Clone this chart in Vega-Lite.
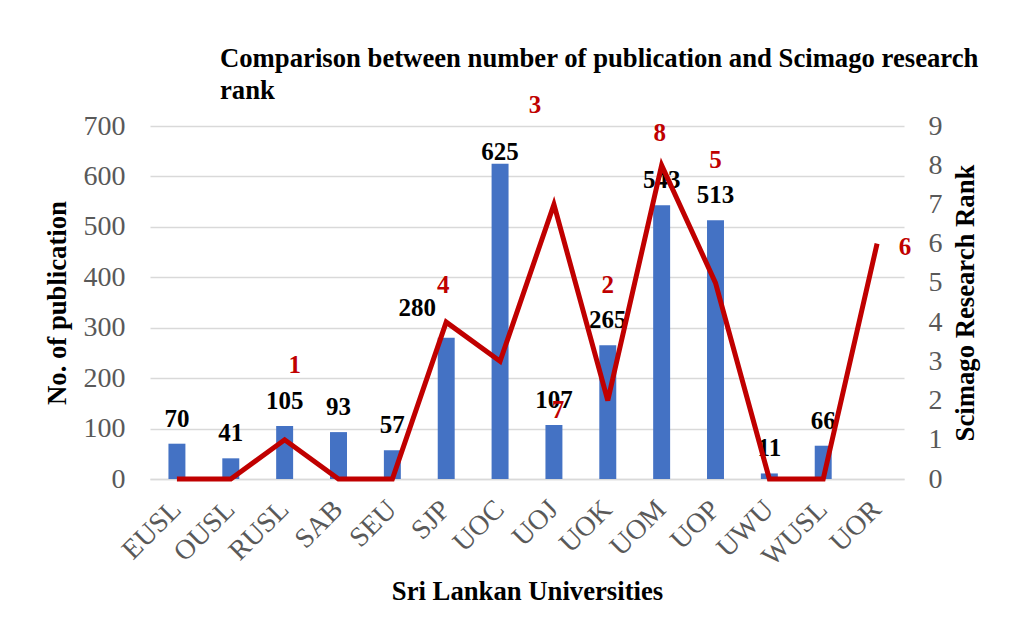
{
  "$schema": "https://vega.github.io/schema/vega-lite/v6.json",
  "width": 754,
  "height": 353,
  "autosize": {"type": "none"},
  "padding": {"left": 150, "top": 126, "right": 105, "bottom": 156},
  "background": "white",
  "title": {
    "text": ["Comparison between number of publication and Scimago research", "rank"],
    "anchor": "start",
    "frame": "group",
    "dx": 70,
    "dy": 37,
    "offset": 26,
    "fontSize": 26.7,
    "lineHeight": 32,
    "font": "Liberation Serif",
    "fontWeight": "bold",
    "color": "black"
  },
  "data": {
    "values": [
      {"uni": "EUSL", "pubs": 70, "rank": 0},
      {"uni": "OUSL", "pubs": 41, "rank": 0},
      {"uni": "RUSL", "pubs": 105, "rank": 1},
      {"uni": "SAB", "pubs": 93, "rank": 0},
      {"uni": "SEU", "pubs": 57, "rank": 0},
      {"uni": "SJP", "pubs": 280, "rank": 4},
      {"uni": "UOC", "pubs": 625, "rank": 3},
      {"uni": "UOJ", "pubs": 107, "rank": 7},
      {"uni": "UOK", "pubs": 265, "rank": 2},
      {"uni": "UOM", "pubs": 543, "rank": 8},
      {"uni": "UOP", "pubs": 513, "rank": 5},
      {"uni": "UWU", "pubs": 11, "rank": 0},
      {"uni": "WUSL", "pubs": 66, "rank": 0},
      {"uni": "UOR", "pubs": null, "rank": 6}
    ]
  },
  "encoding": {
    "x": {
      "field": "uni",
      "type": "nominal",
      "sort": null,
      "scale": {"paddingInner": 0, "paddingOuter": 0},
      "axis": {
        "title": "Sri Lankan Universities",
        "labelAngle": -45,
        "labelAlign": "right",
        "labelBaseline": "middle",
        "labelPadding": 26,
        "labelFontSize": 28,
        "labelColor": "#595959",
        "ticks": false,
        "domainColor": "#d9d9d9",
        "domainWidth": 1.5,
        "titleFontSize": 26.7,
        "titlePadding": 8
      }
    }
  },
  "layer": [
    {
      "encoding": {
        "y": {
          "field": "pubs",
          "type": "quantitative",
          "scale": {"domain": [0, 700]},
          "axis": {
            "orient": "left",
            "title": "No. of publication",
            "values": [0, 100, 200, 300, 400, 500, 600, 700],
            "labelFontSize": 28,
            "labelColor": "#595959",
            "labelPadding": 25,
            "ticks": false,
            "domain": false,
            "grid": true,
            "gridColor": "#d9d9d9",
            "gridWidth": 1.5,
            "titleFontSize": 26.7,
            "titlePadding": 12
          }
        }
      },
      "layer": [
        {
          "mark": {"type": "bar", "color": "#4472C4", "width": {"band": 0.315}},
          "transform": [{"filter": "datum.pubs != null"}]
        },
        {
          "mark": {"type": "text", "fontSize": 25, "fontWeight": "bold", "color": "black", "baseline": "middle", "dy": -25},
          "transform": [{"filter": "datum.pubs != null && datum.uni != 'UOC' && datum.uni != 'SJP'"}],
          "encoding": {"text": {"field": "pubs", "type": "quantitative"}}
        },
        {
          "mark": {"type": "text", "fontSize": 25, "fontWeight": "bold", "color": "black", "baseline": "middle", "dy": -12},
          "transform": [{"filter": "datum.uni == 'UOC'"}],
          "encoding": {"text": {"field": "pubs", "type": "quantitative"}}
        },
        {
          "mark": {"type": "text", "fontSize": 25, "fontWeight": "bold", "color": "black", "baseline": "middle", "dy": -30, "dx": -29},
          "transform": [{"filter": "datum.uni == 'SJP'"}],
          "encoding": {"text": {"field": "pubs", "type": "quantitative"}}
        }
      ]
    },
    {
      "encoding": {
        "y": {
          "field": "rank",
          "type": "quantitative",
          "scale": {"domain": [0, 9]},
          "axis": {
            "orient": "right",
            "title": "Scimago Research Rank",
            "titleAngle": -90,
            "values": [0, 1, 2, 3, 4, 5, 6, 7, 8, 9],
            "labelFontSize": 28,
            "labelColor": "#595959",
            "labelPadding": 24,
            "ticks": false,
            "domain": false,
            "grid": false,
            "titleFontSize": 26.7,
            "titlePadding": 37
          }
        }
      },
      "layer": [
        {
          "mark": {"type": "line", "color": "#C00000", "strokeWidth": 5, "strokeJoin": "miter"}
        },
        {
          "mark": {"type": "text", "fontSize": 25, "fontWeight": "bold", "color": "#C00000", "baseline": "middle", "dy": -75, "dx": 10},
          "transform": [{"filter": "datum.uni == 'RUSL'"}],
          "encoding": {"text": {"field": "rank", "type": "quantitative"}}
        },
        {
          "mark": {"type": "text", "fontSize": 25, "fontWeight": "bold", "color": "#C00000", "baseline": "middle", "dy": -37, "dx": -3},
          "transform": [{"filter": "datum.uni == 'SJP'"}],
          "encoding": {"text": {"field": "rank", "type": "quantitative"}}
        },
        {
          "mark": {"type": "text", "fontSize": 25, "fontWeight": "bold", "color": "#C00000", "baseline": "middle", "dy": -256, "dx": 35},
          "transform": [{"filter": "datum.uni == 'UOC'"}],
          "encoding": {"text": {"field": "rank", "type": "quantitative"}}
        },
        {
          "mark": {"type": "text", "fontSize": 25, "fontWeight": "bold", "color": "#C00000", "baseline": "middle", "dy": 206, "dx": 4},
          "transform": [{"filter": "datum.uni == 'UOJ'"}],
          "encoding": {"text": {"field": "rank", "type": "quantitative"}}
        },
        {
          "mark": {"type": "text", "fontSize": 25, "fontWeight": "bold", "color": "#C00000", "baseline": "middle", "dy": -116, "dx": 0},
          "transform": [{"filter": "datum.uni == 'UOK'"}],
          "encoding": {"text": {"field": "rank", "type": "quantitative"}}
        },
        {
          "mark": {"type": "text", "fontSize": 25, "fontWeight": "bold", "color": "#C00000", "baseline": "middle", "dy": -32, "dx": -2},
          "transform": [{"filter": "datum.uni == 'UOM'"}],
          "encoding": {"text": {"field": "rank", "type": "quantitative"}}
        },
        {
          "mark": {"type": "text", "fontSize": 25, "fontWeight": "bold", "color": "#C00000", "baseline": "middle", "dy": -123, "dx": 0},
          "transform": [{"filter": "datum.uni == 'UOP'"}],
          "encoding": {"text": {"field": "rank", "type": "quantitative"}}
        },
        {
          "mark": {"type": "text", "fontSize": 25, "fontWeight": "bold", "color": "#C00000", "baseline": "middle", "dy": 3, "dx": 28},
          "transform": [{"filter": "datum.uni == 'UOR'"}],
          "encoding": {"text": {"field": "rank", "type": "quantitative"}}
        }
      ]
    }
  ],
  "resolve": {"scale": {"y": "independent"}},
  "config": {
    "font": "Liberation Serif",
    "view": {"stroke": null},
    "axis": {
      "labelFont": "Liberation Serif",
      "titleFont": "Liberation Serif",
      "titleFontWeight": "bold",
      "titleColor": "black"
    },
    "text": {"font": "Liberation Serif"}
  }
}
